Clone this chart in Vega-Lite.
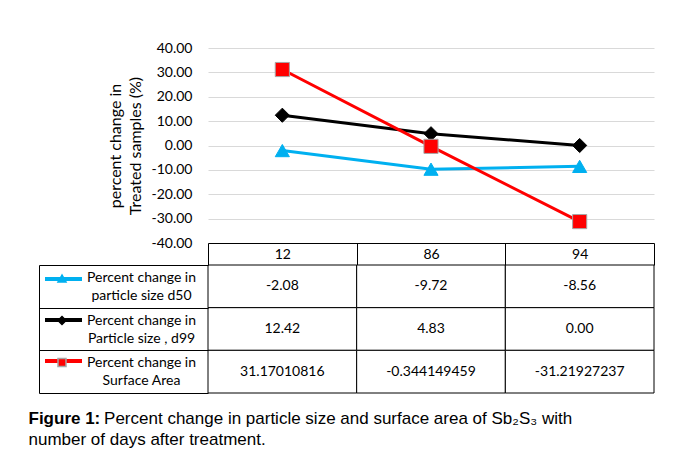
{
  "$schema": "https://vega.github.io/schema/vega-lite/v6.json",
  "autosize": {"type": "none"},
  "padding": {"left": 208, "top": 48, "right": 469, "bottom": 413},
  "background": "white",
  "bounds": "flush",
  "spacing": 22,
  "config": {"view": {"stroke": null}, "font": "Lato"},
  "data": {"values": [
    {"day": "12", "series": "Percent change in particle size d50", "code": "d50", "value": -2.08, "label": "-2.08"},
    {"day": "86", "series": "Percent change in particle size d50", "code": "d50", "value": -9.72, "label": "-9.72"},
    {"day": "94", "series": "Percent change in particle size d50", "code": "d50", "value": -8.56, "label": "-8.56"},
    {"day": "12", "series": "Percent change in Particle size , d99", "code": "d99", "value": 12.42, "label": "12.42"},
    {"day": "86", "series": "Percent change in Particle size , d99", "code": "d99", "value": 4.83, "label": "4.83"},
    {"day": "94", "series": "Percent change in Particle size , d99", "code": "d99", "value": 0.0, "label": "0.00"},
    {"day": "12", "series": "Percent change in Surface Area", "code": "surface", "value": 31.17010816, "label": "31.17010816"},
    {"day": "86", "series": "Percent change in Surface Area", "code": "surface", "value": -0.344149459, "label": "-0.344149459"},
    {"day": "94", "series": "Percent change in Surface Area", "code": "surface", "value": -31.21927237, "label": "-31.21927237"}
  ]},
  "title": {
    "text": "Figure 1:",
    "subtitle": ["\u200b\u00a0\u00a0\u00a0\u00a0\u00a0\u00a0\u00a0\u00a0\u00a0\u00a0\u00a0\u00a0\u00a0\u00a0\u00a0\u00a0Percent change in particle size and surface area of Sb\u2082S\u2083 with", "number of days after treatment."],
    "orient": "bottom",
    "anchor": "start",
    "frame": "bounds",
    "font": "Liberation Sans",
    "fontSize": 17,
    "fontWeight": "bold",
    "color": "black",
    "lineHeight": 17,
    "subtitleFont": "Liberation Sans",
    "subtitleFontSize": 17,
    "subtitleColor": "black",
    "subtitleLineHeight": 21,
    "subtitlePadding": -17,
    "offset": 17,
    "dx": -10
  },
  "vconcat": [
    {
      "width": 446,
      "height": 195,
      "encoding": {
        "x": {"field": "day", "type": "ordinal", "bandPosition": 0.5,
              "scale": {"type": "band", "paddingInner": 0, "paddingOuter": 0},
              "axis": {"orient": "bottom", "title": null, "tickBand": "extent", "tickSize": 22,
                       "tickColor": "black", "domainColor": "black", "labelFontSize": 14, "labelFont": "Lato",
                       "labelColor": "black", "labelBaseline": "middle", "labelPadding": -11, "labelAngle": 0, "grid": false}},
        "y": {"field": "value", "type": "quantitative",
              "scale": {"domain": [-40, 40], "nice": false, "zero": false},
              "axis": {"values": [-40, -30, -20, -10, 0, 10, 20, 30, 40], "tickCount": 9, "labelOverlap": false,
                       "labelExpr": "replace(format(datum.value, '.2f'), '\u2212', '-')",
                       "domain": false, "ticks": false,
                       "labelFontSize": 14, "labelFont": "Lato", "labelColor": "black", "labelPadding": 16,
                       "grid": true, "gridColor": "#d9d9d9", "gridWidth": 1,
                       "title": ["percent change in", "Treated samples (%)"], "titleFont": "Lato", "titleFontSize": 16,
                       "titleFontWeight": "normal", "titleLineHeight": 20, "titlePadding": 8, "titleColor": "black"}}
      },
      "layer": [
        {
          "mark": {"type": "line", "strokeWidth": 3},
          "encoding": {
            "color": {"field": "series", "type": "nominal",
                      "scale": {"domain": ["Percent change in particle size d50", "Percent change in Particle size , d99", "Percent change in Surface Area"],
                                "range": ["#00B0F0", "#000000", "#FF0000"]},
                      "legend": {"orient": "none", "legendX": -165, "legendY": 210.5, "title": null, "labelExpr": "''", "labelFontSize": 1,
                                 "symbolType": "stroke", "symbolSize": 1369, "symbolStrokeWidth": 4, "rowPadding": 12, "padding": 0}}
          }
        },
        {
          "mark": {"type": "point", "filled": true, "size": 200, "opacity": 1, "strokeWidth": 1},
          "encoding": {
            "fill": {"field": "code", "type": "nominal",
                     "scale": {"range": ["#00B0F0", "#000000", "#FF0000"]},
                     "legend": {"orient": "none", "legendX": -151, "legendY": 225.5, "title": null, "labelExpr": "''", "labelFontSize": 1,
                                "symbolSize": 64, "rowPadding": 28, "padding": 0}},
            "shape": {"field": "code", "type": "nominal",
                      "scale": {"range": ["triangle-up", "diamond", "square"]},
                      "legend": {"orient": "none", "legendX": -151, "legendY": 225.5, "title": null, "labelExpr": "''", "labelFontSize": 1,
                                "symbolSize": 64, "rowPadding": 28, "padding": 0}},
            "stroke": {"field": "code", "type": "nominal",
                       "scale": {"range": ["#00B0F0", "#000000", "#A6A6A6"]},
                       "legend": {"orient": "none", "legendX": -151, "legendY": 225.5, "title": null, "labelExpr": "''", "labelFontSize": 1,
                                  "symbolSize": 64, "rowPadding": 28, "padding": 0}}
          }
        }
      ]
    },
    {
      "width": 446,
      "height": 128,
      "encoding": {
        "x": {"field": "day", "type": "ordinal", "scale": {"type": "band", "paddingInner": 0, "paddingOuter": 0}, "axis": null},
        "y": {"field": "series", "type": "nominal",
              "sort": ["Percent change in particle size d50", "Percent change in Particle size , d99", "Percent change in Surface Area"],
              "scale": {"type": "band", "paddingInner": 0, "paddingOuter": 0},
              "axis": {"orient": "left", "offset": 169, "tickSize": -169, "tickBand": "extent",
                       "tickColor": "black", "domainColor": "black", "title": null,
                       "labelAlign": "center", "labelBaseline": "top", "labelOffset": -16, "labelPadding": 67,
                       "labelFont": "Lato", "labelFontSize": 14, "labelColor": "black", "labelLineHeight": 18, "labelLimit": 0,
                       "labelExpr": "datum.label == '' ? '' : ['Percent change in', replace(datum.label, 'Percent change in ', '')]"}}
      },
      "layer": [
        {"mark": {"type": "rect", "fill": "white", "stroke": "black", "strokeWidth": 1}},
        {
          "mark": {"type": "text", "font": "Lato", "fontSize": 14, "color": "black"},
          "encoding": {"text": {"field": "label", "type": "nominal"}}
        }
      ]
    }
  ]
}
